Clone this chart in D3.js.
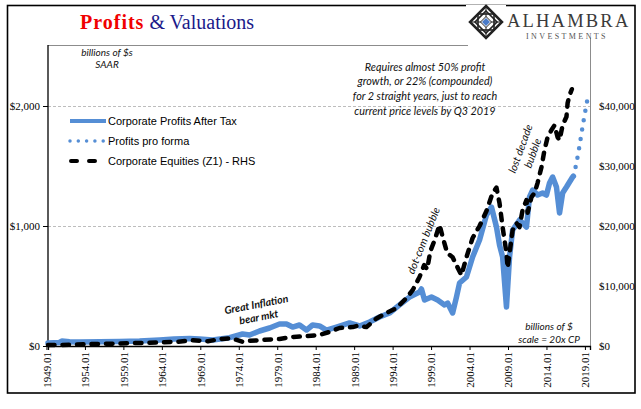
<!DOCTYPE html>
<html><head><meta charset="utf-8">
<script src="https://cdn.jsdelivr.net/npm/d3@7"></script>
<style>body{margin:0;background:#fff}</style>
</head><body>
<script>
// ---- DATA ----
const profitYears = [1949.2,1950.7,1951.0,1952.0,1953.3,1955.9,1958.5,1961.1,1963.7,1965.6,1967.6,1968.9,1970.6,1972.8,1974.5,1975.4,1976.7,1978.0,1979.3,1980.2,1981.0,1981.9,1982.8,1983.6,1984.5,1985.4,1986.7,1988.4,1989.7,1991.0,1992.3,1993.6,1994.9,1996.2,1997.5,1997.75,1998.15,1999.05,1999.85,2000.75,2001.15,2001.8,2002.3,2002.7,2003.6,2004.4,2005.3,2006.2,2006.85,2007.5,2007.9,2008.3,2008.8,2009.2,2009.6,2010.5,2011.4,2011.8,2012.2,2012.85,2013.5,2014.0,2014.4,2014.8,2015.3,2015.7,2016.1,2016.6,2017.0,2017.4,2017.5];
const profitValues = [25,30,42,36,33,35,38,42,50,58,62,58,50,69,100,92,125,150,183,183,158,175,133,175,167,133,158,192,167,200,242,275,342,408,450,475,383,408,383,342,358,275,408,525,575,742,883,1092,1158,992,842,742,325,742,967,1050,992,1242,1300,1258,1275,1258,1358,1408,1325,1108,1275,1325,1367,1408,1415];

const proFormaYears = [2017.5,2017.75,2018.0,2018.25,2018.5,2018.75,2019.0,2019.25,2019.5];
const proFormaValues = [1415,1480,1560,1650,1750,1850,1940,2030,2110];

const equityYears = [1949.2,1952,1955,1958,1960,1962,1964,1966,1968,1970,1971.5,1973,1974.5,1975.4,1977,1979.3,1981,1982.8,1984.5,1985.8,1987.1,1988.8,1989.5,1990.6,1991.9,1993.2,1994.5,1995.8,1996.6,1997.5,1998.1,1998.5,1998.9,1999.45,2000.1,2000.5,2001.1,2001.8,2002.4,2002.95,2003.6,2004.4,2005.3,2006.2,2007.0,2007.5,2007.9,2008.3,2008.8,2008.95,2009.6,2010.1,2010.5,2010.9,2011.4,2011.55,2012.05,2012.45,2012.85,2013.35,2013.75,2014.15,2014.65,2015.05,2015.45,2015.7,2016.1,2016.6,2016.75,2017.0,2017.3];
const equityValues = [150,200,330,400,480,500,620,700,950,800,1150,1300,700,850,1000,1170,1500,1650,1850,2350,3000,3150,3400,3150,4600,5500,6300,8000,9300,11500,13500,12800,15800,17600,20200,18200,15500,14800,13200,11800,14800,18000,20000,22500,25500,26400,23800,19800,15500,13000,19300,20500,19800,22700,24300,22200,24800,25500,27200,29800,32700,34800,36000,36800,34800,34300,36800,38200,40500,41800,42800];

const xTickYears = [1949,1954,1959,1964,1969,1974,1979,1984,1989,1994,1999,2004,2009,2014,2019];
const xTickLabels = ["1949.01","1954.01","1959.01","1964.01","1969.01","1974.01","1979.01","1984.01","1989.01","1994.01","1999.01","2004.01","2009.01","2014.01","2019.01"];
const leftTicks = [0,1000,2000];
const rightTicks = [0,10000,20000,30000,40000];
const seriesNames = ["Corporate Profits After Tax","Profits pro forma","Corporate Equities (Z1) - RHS"];

// ---- CHART ----
const W = 641, H = 409;
const BLUE = "#558ED5";
const svg = d3.select("body").append("svg").attr("width", W).attr("height", H);
svg.append("rect").attr("width", W).attr("height", H).attr("fill", "#fff");
svg.append("rect").attr("x", 7.5).attr("y", 5.5).attr("width", 627.5).attr("height", 387.5)
  .attr("fill", "none").attr("stroke", "#000").attr("stroke-width", 1.6);

const x = d3.scaleLinear().domain([1949.2, 2019.66]).range([48, 590]);
const yL = d3.scaleLinear().domain([0, 2500]).range([346, 46]);
const yR = d3.scaleLinear().domain([0, 50000]).range([346, 46]);

// plot area top border
svg.append("line").attr("x1", 48).attr("x2", 468).attr("y1", 45.5).attr("y2", 45.5)
  .attr("stroke", "#8c8c8c").attr("stroke-width", 1);

// gridlines
svg.append("g").selectAll("line").data(leftTicks.filter(d => d > 0)).join("line")
  .attr("x1", 48).attr("x2", 590).attr("y1", d => Math.round(yL(d)) + 0.5).attr("y2", d => Math.round(yL(d)) + 0.5)
  .attr("stroke", "#bdbdbd").attr("stroke-width", 1).attr("stroke-dasharray", "3,2");

const serif = "'Liberation Serif','Times New Roman',serif";
const sans = "'Liberation Sans',Arial,sans-serif";
const ital = "Lato,'Open Sans',sans-serif";

// left axis
const gL = svg.append("g").attr("transform", "translate(48,0)")
  .call(d3.axisLeft(yL).tickValues(leftTicks).tickFormat(d => "$" + d3.format(",")(d)).tickSize(5).tickPadding(3));
gL.select(".domain").remove();
gL.selectAll("line").attr("stroke", "#000");
gL.selectAll("text").style("font-family", serif).style("font-size", "11px").attr("fill", "#000");
svg.append("line").attr("x1", 48).attr("x2", 48).attr("y1", 45).attr("y2", 346.5).attr("stroke", "#000").attr("stroke-width", 1.3);

// right axis
const gR = svg.append("g").attr("transform", "translate(590,0)")
  .call(d3.axisRight(yR).tickValues(rightTicks).tickFormat(d => "$" + d3.format(",")(d)).tickSize(0).tickPadding(9));
gR.select(".domain").remove();
gR.selectAll("text").style("font-family", serif).style("font-size", "11px").attr("fill", "#000");
svg.append("line").attr("x1", 590.5).attr("x2", 590.5).attr("y1", 38).attr("y2", 346).attr("stroke", "#8c8c8c").attr("stroke-width", 1);

// bottom axis
const gB = svg.append("g").attr("transform", "translate(0,346)")
  .call(d3.axisBottom(x).tickValues(xTickYears).tickFormat((d, i) => xTickLabels[i]).tickSize(4));
gB.select(".domain").attr("stroke", "#000").attr("stroke-width", 1.3);
gB.selectAll("line").attr("stroke", "#000");
gB.selectAll("text").attr("transform", "rotate(-90)").attr("x", -6).attr("y", 0).attr("dy", "0.35em")
  .style("text-anchor", "end").style("font-family", serif).style("font-size", "11px").attr("fill", "#000");

// series
const lineL = d3.line().x(d => x(d[0])).y(d => yL(d[1]));
const lineR = d3.line().x(d => x(d[0])).y(d => yR(d[1]));
const profits = profitYears.map((t, i) => [t, profitValues[i]]);
const proforma = proFormaYears.map((t, i) => [t, proFormaValues[i]]);
const equities = equityYears.map((t, i) => [t, equityValues[i]]);

svg.append("path").datum(profits).attr("d", lineL).attr("fill", "none").attr("stroke", BLUE)
  .attr("stroke-width", 5.5).attr("stroke-linejoin", "round").attr("stroke-linecap", "round");
svg.append("path").datum(proforma).attr("d", lineL).attr("fill", "none").attr("stroke", BLUE)
  .attr("stroke-width", 4.5).attr("stroke-dasharray", "0,9.5").attr("stroke-linecap", "round");
svg.append("path").datum(equities).attr("d", lineR).attr("fill", "none").attr("stroke", "#000")
  .attr("stroke-width", 4.5).attr("stroke-dasharray", "6.5,8").attr("stroke-linecap", "round").attr("stroke-linejoin", "round");

// legend
const leg = svg.append("g");
const legY = [121, 141, 161];
leg.append("line").attr("x1", 70).attr("x2", 106).attr("y1", legY[0]).attr("y2", legY[0]).attr("stroke", BLUE).attr("stroke-width", 4);
leg.append("line").attr("x1", 70).attr("x2", 106).attr("y1", legY[1]).attr("y2", legY[1]).attr("stroke", BLUE).attr("stroke-width", 3.5).attr("stroke-dasharray", "0,8.3").attr("stroke-linecap", "round");
leg.append("line").attr("x1", 71).attr("x2", 105).attr("y1", legY[2]).attr("y2", legY[2]).attr("stroke", "#000").attr("stroke-width", 4).attr("stroke-dasharray", "6,12").attr("stroke-linecap", "round");
leg.selectAll("text").data(seriesNames).join("text").attr("x", 108).attr("y", (d, i) => legY[i] + 4)
  .text(d => d).style("font-family", sans).style("font-size", "11px").attr("fill", "#000");

// title
const title = svg.append("text").attr("x", 80).attr("y", 29).style("font-family", serif).style("font-size", "20px");
title.append("tspan").text("Profits").attr("fill", "#f00000").style("font-weight", "bold").style("letter-spacing", "1px");
title.append("tspan").text(" & Valuations").attr("fill", "#1a1a8a");

// logo
const logo = svg.append("g").attr("transform", "translate(486,22)");
logo.append("rect").attr("x", -20).attr("y", -17).attr("width", 40).attr("height", 34).attr("fill", "#fff");
const dia = r => `M0,${-r}L${r},0L0,${r}L${-r},0Z`;
logo.append("path").attr("d", dia(16)).attr("fill", "none").attr("stroke", "#222").attr("stroke-width", 2.5);
logo.append("path").attr("d", dia(11)).attr("fill", "none").attr("stroke", "#222").attr("stroke-width", 1.6);
logo.append("rect").attr("x", -8).attr("y", -8).attr("width", 16).attr("height", 16).attr("fill", "none").attr("stroke", "#222").attr("stroke-width", 1.6);
logo.append("path").attr("d", "M-16,0L16,0M0,-16L0,16").attr("stroke", "#222").attr("stroke-width", 1);
logo.append("path").attr("d", dia(5.5)).attr("fill", "#fff").attr("stroke", "#222").attr("stroke-width", 1);
logo.append("path").attr("d", dia(4)).attr("fill", "#4a7bc8");
svg.append("text").attr("x", 507).attr("y", 26.5).text("ALHAMBRA").style("font-family", serif).style("font-size", "18.5px")
  .style("letter-spacing", "2.2px").attr("fill", "#3a3a3a");
svg.append("text").attr("x", 526).attr("y", 38.5).text("INVESTMENTS").style("font-family", serif).style("font-size", "8px")
  .style("letter-spacing", "2.4px").attr("fill", "#555");

// annotations
function note(lines, cx, cy, lh, opts = {}) {
  const g = svg.append("g").attr("transform", `translate(${cx},${cy}) rotate(${opts.rot || 0})`);
  g.selectAll("text").data(lines).join("text").attr("x", 0).attr("y", (d, i) => i * lh)
    .text(d => d).style("font-family", ital).style("font-style", "italic")
    .style("font-size", (opts.size || 10.5) + "px").style("font-weight", opts.bold ? "bold" : "normal")
    .style("text-anchor", "middle").attr("fill", "#111");
}
note(["billions of $s", "SAAR"], 107, 55.5, 12.8, {size: 10});
note(["Requires almost 50% profit", "growth, or 22% (compounded)", "for 2 straight years, just to reach", "current price levels by Q3 2019"], 425, 70.7, 14.8, {size: 10.8});
note(["billions of $", "scale = 20x CP"], 549, 330, 12.7, {size: 10});
note(["Great Inflation", "bear mkt"], 257, 308, 13, {rot: -11, size: 10.5, bold: true});
note(["dot-com bubble"], 427, 242, 13, {rot: -68, size: 10.8});
note(["lost decade", "bubble"], 524, 150, 13, {rot: -70, size: 10.8});
</script>
</body></html>
